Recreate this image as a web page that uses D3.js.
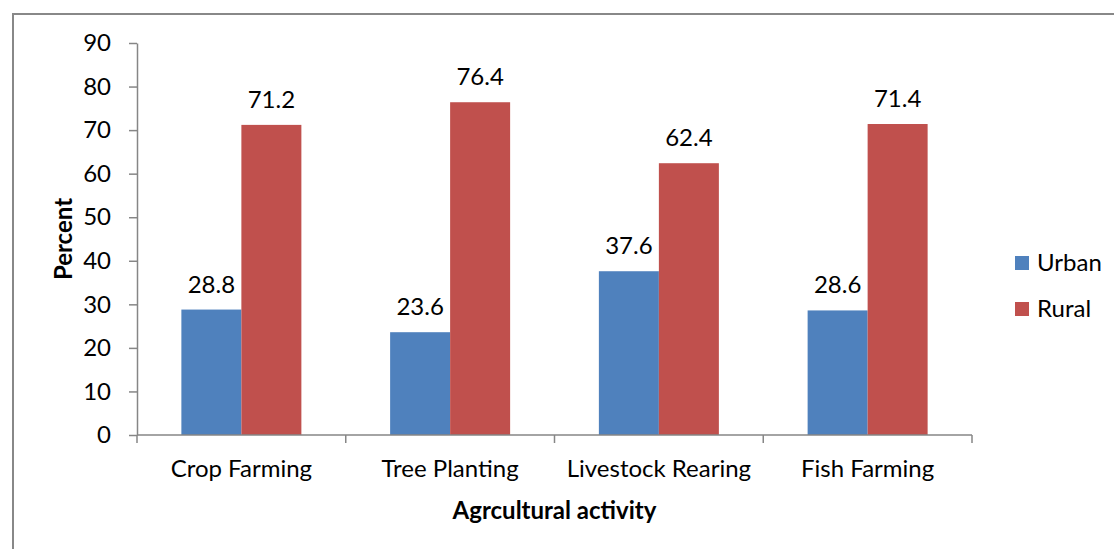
<!DOCTYPE html>
<html>
<head>
<meta charset="utf-8">
<script src="https://cdn.jsdelivr.net/npm/d3@7"></script>
<style>
  html, body { margin: 0; padding: 0; background: #fff; }
  svg { display: block; font-family: "Lato", "Open Sans", sans-serif; }
</style>
</head>
<body>
<svg id="chart" width="1114" height="549"></svg>
<script>
// Share of respondents by agricultural activity, urban vs rural
const categories = ["Crop Farming", "Tree Planting", "Livestock Rearing", "Fish Farming"];
const seriesNames = ["Urban", "Rural"];
const urbanValues = [28.8, 23.6, 37.6, 28.6];
const ruralValues = [71.2, 76.4, 62.4, 71.4];
const yTicks = [0, 10, 20, 30, 40, 50, 60, 70, 80, 90];
const colors = ["#4F81BD", "#C0504D"];

const svg = d3.select("#chart");
const axisColor = "#868686";
const fontSize = 24;

// outer frame
svg.append("rect")
  .attr("x", 13).attr("y", 14)
  .attr("width", 1114).attr("height", 560)
  .attr("fill", "none").attr("stroke", "#888").attr("stroke-width", 2);

const plot = { left: 137, right: 972, top: 43, bottom: 435 };

const x0 = d3.scaleBand().domain(categories).range([plot.left, plot.right]).paddingInner(0).paddingOuter(0);
const barW = 60;
const x1 = d3.scaleBand().domain(seriesNames).range([0, barW * 2]);
const y = d3.scaleLinear().domain([0, 90]).range([plot.bottom, plot.top]);

const rows = categories.map((c, i) => ({ cat: c, vals: [urbanValues[i], ruralValues[i]] }));

// bars
const groups = svg.append("g").selectAll("g").data(rows).join("g")
  .attr("transform", d => `translate(${x0(d.cat) + (x0.bandwidth() - barW * 2) / 2},0)`);

groups.selectAll("rect").data(d => d.vals.map((v, j) => ({ name: seriesNames[j], v, j })))
  .join("rect")
  .attr("x", d => x1(d.name))
  .attr("y", d => y(d.v))
  .attr("width", x1.bandwidth())
  .attr("height", d => y(0) - y(d.v))
  .attr("fill", d => colors[d.j]);

groups.selectAll("text").data(d => d.vals.map((v, j) => ({ name: seriesNames[j], v, j })))
  .join("text")
  .attr("x", d => x1(d.name) + x1.bandwidth() / 2)
  .attr("y", d => y(d.v) - 17)
  .attr("text-anchor", "middle")
  .attr("font-size", fontSize)
  .attr("fill", "#000")
  .text(d => d.v.toFixed(1));

// y axis
const yAxis = svg.append("g")
  .attr("transform", `translate(${plot.left},0)`)
  .call(d3.axisLeft(y).tickValues(yTicks).tickSize(8).tickSizeOuter(0).tickPadding(18));
yAxis.select(".domain").attr("stroke", axisColor).attr("stroke-width", 1.5);
yAxis.selectAll(".tick line").attr("stroke", axisColor).attr("stroke-width", 1.5);
yAxis.selectAll(".tick text").attr("font-size", fontSize).attr("fill", "#000")
  .attr("font-family", "Lato, 'Open Sans', sans-serif");

// x axis with boundary ticks
const xAxisG = svg.append("g").attr("transform", `translate(0,${plot.bottom})`);
xAxisG.append("line")
  .attr("x1", plot.left).attr("x2", plot.right)
  .attr("stroke", axisColor).attr("stroke-width", 1.5);
const bounds = categories.map(c => x0(c)).concat([plot.right]);
xAxisG.selectAll("line.tk").data(bounds).join("line")
  .attr("class", "tk")
  .attr("x1", d => d).attr("x2", d => d)
  .attr("y1", 0).attr("y2", 8)
  .attr("stroke", axisColor).attr("stroke-width", 1.5);
xAxisG.selectAll("text").data(categories).join("text")
  .attr("x", d => x0(d) + x0.bandwidth() / 2)
  .attr("y", 42)
  .attr("text-anchor", "middle")
  .attr("font-size", fontSize)
  .attr("fill", "#000")
  .text(d => d);

// axis titles
svg.append("text")
  .attr("x", (plot.left + plot.right) / 2)
  .attr("y", 519)
  .attr("text-anchor", "middle")
  .attr("font-size", fontSize).attr("font-weight", "bold")
  .text("Agrcultural activity");

svg.append("text")
  .attr("transform", `translate(72,${(plot.top + plot.bottom) / 2}) rotate(-90)`)
  .attr("text-anchor", "middle")
  .attr("font-size", fontSize).attr("font-weight", "bold")
  .text("Percent");

// legend
const legend = svg.append("g").selectAll("g").data(seriesNames).join("g")
  .attr("transform", (d, i) => `translate(1015,${256 + i * 46})`);
legend.append("rect").attr("width", 14).attr("height", 14).attr("fill", (d, i) => colors[i]);
legend.append("text").attr("x", 22).attr("y", 15).attr("font-size", fontSize).attr("fill", "#000").text(d => d);
</script>
</body>
</html>
